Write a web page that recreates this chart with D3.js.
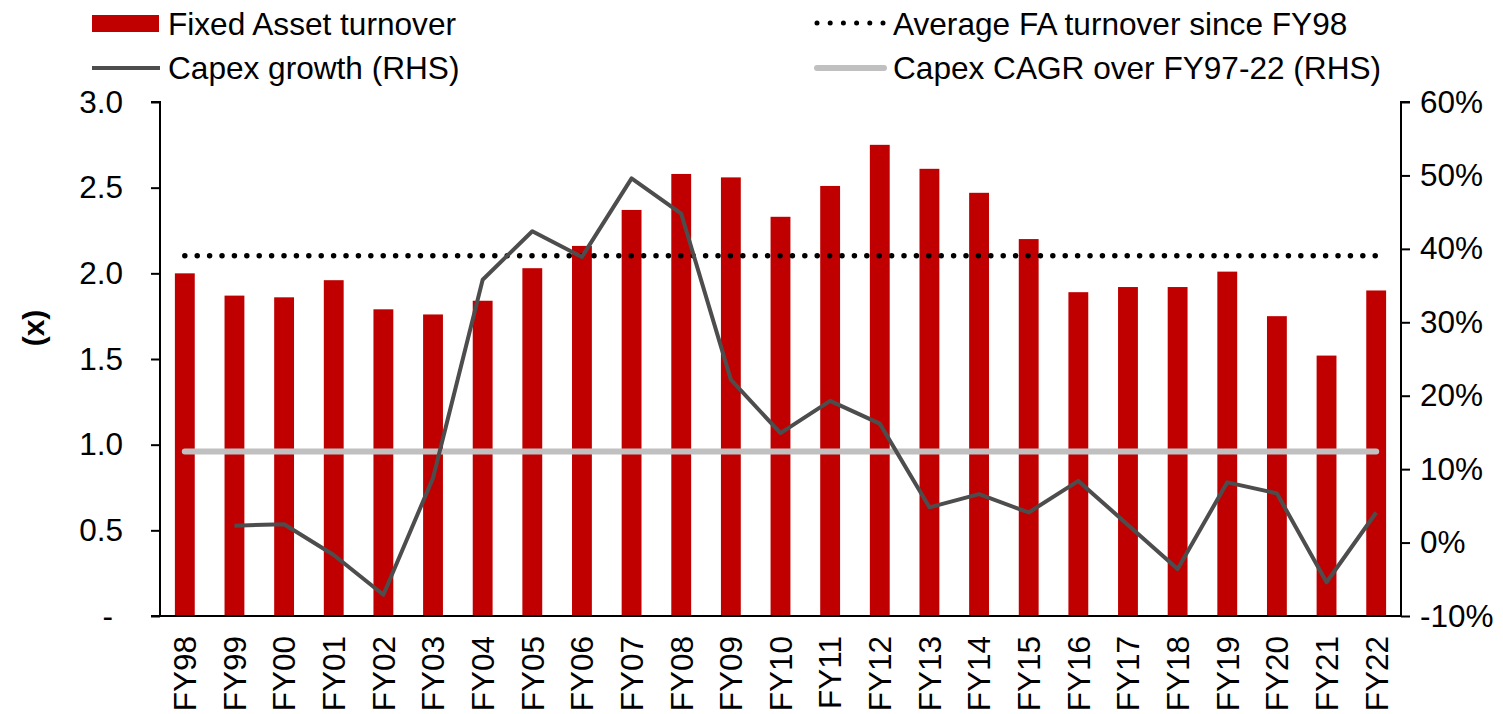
<!DOCTYPE html>
<html>
<head>
<meta charset="utf-8">
<script src="https://cdn.jsdelivr.net/npm/d3@7"></script>
<style>
  body { margin: 0; background: #fff; }
  svg text { font-family: Arial, "Liberation Sans", sans-serif; fill: #000; }
</style>
</head>
<body>
<div id="chart"></div>
<script>
// data
const years = ["FY98","FY99","FY00","FY01","FY02","FY03","FY04","FY05","FY06","FY07","FY08","FY09",
  "FY10","FY11","FY12","FY13","FY14","FY15","FY16","FY17","FY18","FY19","FY20","FY21","FY22"];
const faTurnover = [2.00,1.87,1.86,1.96,1.79,1.76,1.84,2.03,2.16,2.37,2.58,2.56,
  2.33,2.51,2.75,2.61,2.47,2.20,1.89,1.92,1.92,2.01,1.75,1.52,1.90];
const capexGrowth = [null,2.3,2.5,-1.7,-7.1,8.8,35.8,42.4,38.9,49.6,44.8,22.2,
  14.9,19.3,16.2,4.8,6.6,4.1,8.4,2.4,-3.6,8.2,6.7,-5.4,4.1];
const capexCagr = 12.4;
const leftTicks = [0, 0.5, 1.0, 1.5, 2.0, 2.5, 3.0];
const rightTicks = [-10, 0, 10, 20, 30, 40, 50, 60];

const W = 1503, H = 714;
const m = { left: 160, right: 1401, top: 102, bottom: 616 };
const fs = "31.5px";

const svg = d3.select("#chart").append("svg")
  .attr("width", W).attr("height", H);

const x = d3.scaleBand().domain(years).range([m.left, m.right])
  .paddingInner(0.6).paddingOuter(0.3);
const y = d3.scaleLinear().domain([0, 3]).range([m.bottom, m.top]);
const y2 = d3.scaleLinear().domain([-10, 60]).range([m.bottom, m.top]);
const cx = d => x(d) + x.bandwidth() / 2;

// bars
svg.append("g").selectAll("rect")
  .data(years.map((d, i) => ({ year: d, v: faTurnover[i] })))
  .enter().append("rect")
  .attr("x", d => x(d.year))
  .attr("width", x.bandwidth())
  .attr("y", d => y(d.v))
  .attr("height", d => y(0) - y(d.v))
  .attr("fill", "#c00000");

// average FA turnover (dotted)
const avg = d3.mean(faTurnover);
svg.append("line")
  .attr("x1", cx(years[0])).attr("x2", cx(years[years.length - 1]))
  .attr("y1", y(avg)).attr("y2", y(avg))
  .attr("stroke", "#000").attr("stroke-width", 5.5)
  .attr("stroke-linecap", "round").attr("stroke-dasharray", "0 12.4");

// capex CAGR (grey)
svg.append("line")
  .attr("x1", cx(years[0])).attr("x2", cx(years[years.length - 1]))
  .attr("y1", y2(capexCagr)).attr("y2", y2(capexCagr))
  .attr("stroke", "#c0c0c0").attr("stroke-width", 6)
  .attr("stroke-linecap", "round");

// capex growth line
const line = d3.line()
  .defined(d => d.v !== null)
  .x(d => cx(d.year))
  .y(d => y2(d.v));
svg.append("path")
  .datum(years.map((d, i) => ({ year: d, v: capexGrowth[i] })))
  .attr("fill", "none")
  .attr("stroke", "#4d4d4d").attr("stroke-width", 4)
  .attr("stroke-linejoin", "round")
  .attr("d", line);

// left axis
const gl = svg.append("g").attr("transform", `translate(${m.left},0)`)
  .call(d3.axisLeft(y).tickValues(leftTicks).tickSize(9).tickPadding(28)
    .tickFormat(d => d === 0 ? "-" : d3.format(".1f")(d)));
gl.select(".domain").attr("d", `M-9,${m.top}H0V${m.bottom}`).attr("stroke", "#000").attr("stroke-width", 2);
gl.selectAll(".tick line").attr("stroke", "#000").attr("stroke-width", 2);
gl.selectAll(".tick text").style("font-size", fs).attr("fill", "#000");
gl.selectAll(".tick text").filter(d => d === 0).attr("dx", "-10");

// right axis
const gr = svg.append("g").attr("transform", `translate(${m.right},0)`)
  .call(d3.axisRight(y2).tickValues(rightTicks).tickSize(9).tickPadding(10)
    .tickFormat(d => d + "%"));
gr.select(".domain").attr("d", `M9,${m.top}H0V${m.bottom}`).attr("stroke", "#000").attr("stroke-width", 2);
gr.selectAll(".tick line").attr("stroke", "#000").attr("stroke-width", 2);
gr.selectAll(".tick text").style("font-size", fs).attr("fill", "#000");

// bottom axis
const gb = svg.append("g").attr("transform", `translate(0,${m.bottom})`)
  .call(d3.axisBottom(x).tickSize(0).tickPadding(0));
gb.select(".domain").attr("d", `M${m.left - 9},0H${m.right}`).attr("stroke", "#000").attr("stroke-width", 2);
gb.selectAll(".tick text")
  .style("font-size", fs).attr("fill", "#000")
  .attr("text-anchor", "end")
  .attr("transform", "translate(0,20) rotate(-90)")
  .attr("x", 0).attr("y", 0).attr("dy", "0.36em");

// axis title
svg.append("text")
  .attr("transform", "translate(33,328) rotate(-90)")
  .attr("text-anchor", "middle").attr("dy", "0.36em")
  .style("font-size", "30px").style("font-weight", "bold")
  .text("(x)");

// legend
const lg = svg.append("g").style("font-size", "31.6px");
lg.append("rect").attr("x", 92).attr("y", 15).attr("width", 67).attr("height", 17).attr("fill", "#c00000");
lg.append("text").attr("x", 168).attr("y", 35).text("Fixed Asset turnover");
lg.append("line").attr("x1", 92).attr("x2", 160).attr("y1", 68).attr("y2", 68)
  .attr("stroke", "#4d4d4d").attr("stroke-width", 4);
lg.append("text").attr("x", 168).attr("y", 79).text("Capex growth (RHS)");
lg.append("line").attr("x1", 817).attr("x2", 884).attr("y1", 23).attr("y2", 23)
  .attr("stroke", "#000").attr("stroke-width", 5)
  .attr("stroke-linecap", "round").attr("stroke-dasharray", "0 13.2");
lg.append("text").attr("x", 893).attr("y", 35).text("Average FA turnover since FY98");
lg.append("line").attr("x1", 817).attr("x2", 884).attr("y1", 68).attr("y2", 68)
  .attr("stroke", "#c0c0c0").attr("stroke-width", 6).attr("stroke-linecap", "round");
lg.append("text").attr("x", 893).attr("y", 79).text("Capex CAGR over FY97-22 (RHS)");
</script>
</body>
</html>
